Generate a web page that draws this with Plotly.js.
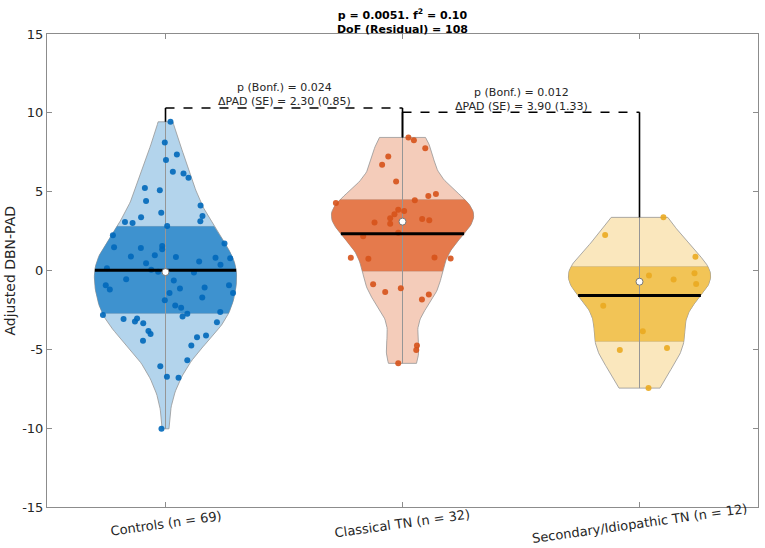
<!DOCTYPE html>
<html>
<head>
<meta charset="utf-8">
<script src="https://cdn.plot.ly/plotly-3.0.1.min.js"></script>
<style>html,body{margin:0;padding:0;background:#fff;}#chart{width:765px;height:548px;}</style>
</head>
<body>
<div id="chart"></div>
<script>
// ---------------- data ----------------
const categories = ['Controls (n = 69)', 'Classical TN (n = 32)', 'Secondary/Idiopathic TN (n = 12)'];

const controlsValues = [9.43, 8.12, 7.36, 7.01, 6.27, 6.15, 5.89, 5.23, 5.09, 4.41,
  4.13, 3.67, 3.45, 3.37, 3.12, 3.07, 3.01, 2.82, 2.24, 1.48,
  1.42, 1.55, 1.34, 1.72, 0.97, 0.89, 0.85, 0.81, 0.78, 0.57,
  0.46, 0.36, 0.15, -0.08, -0.55, -0.64, -0.93, -0.93, -1.21, -1.14,
  -1.08, -1.42, -1.42, -1.72, -1.89, -2.22, -2.37, -2.75, -2.92, -2.82,
  -2.63, -3.07, -3.05, -3.24, -3.35, -3.28, -3.83, -4.03, -4.13, -4.24,
  -4.45, -4.75, -5.70, -6.08, -6.74, -6.80, -10.04, 0.05, -0.12];
const controlsJitter = [0.021, -0.003, 0.048, 0.002, 0.031, 0.076, 0.097, -0.087, -0.024, -0.082,
  0.148, -0.018, 0.156, -0.103, 0.147, -0.171, -0.139, 0.007, -0.222, -0.217,
  -0.104, -0.014, -0.014, 0.249, -0.045, -0.146, 0.044, 0.211, 0.273, 0.142,
  -0.082, 0.232, -0.247, -0.031, -0.166, 0.035, -0.252, 0.268, -0.235, 0.061,
  0.165, 0.285, 0.017, 0.155, -0.003, 0.041, 0.066, 0.092, 0.072, -0.264,
  0.231, -0.177, -0.120, -0.129, -0.094, 0.217, -0.072, -0.063, 0.171, 0.133,
  -0.095, 0.109, 0.092, -0.022, 0.006, 0.055, -0.017, -0.060, 0.120];

const classicalValues = [8.44, 8.26, 7.76, 7.23, 6.70, 5.64, 4.85, 4.72, 4.45, 4.28,
  3.86, 3.77, 3.56, 3.31, 3.26, 3.18, 3.05, 2.97, 2.40, 2.18,
  0.81, 0.74, 0.83, 0.76, -0.87, -1.12, -1.36, -1.53, -1.84, -4.75,
  -5.04, -5.89];
const classicalJitter = [0.025, 0.048, 0.096, -0.060, -0.086, -0.027, 0.141, 0.109, 0.052, -0.281,
  -0.018, 0.007, -0.034, -0.052, 0.083, 0.113, -0.118, -0.052, -0.018, -0.166,
  -0.218, -0.144, 0.135, 0.203, -0.124, -0.007, -0.073, 0.111, 0.082, 0.061,
  0.058, -0.018];

const secondaryValues = [3.37, 2.25, 0.87, -0.17, -0.32, -0.57, -0.85, -2.24, -3.86, -5.04, -4.92, -7.46];
const secondaryJitter = [0.101, -0.145, 0.236, 0.232, 0.040, 0.144, 0.239, -0.153, 0.014, -0.083, 0.116, 0.038];

const groupMeans   = [0.02, 2.33, -1.59];
const groupMedians = [-0.10, 3.10, -0.71];
const groupQ1      = [-2.72, -0.05, -4.50];
const groupQ3      = [2.80, 4.50, 0.25];

const yTickVals = [-15, -10, -5, 0, 5, 10, 15];
const yTickText = ['-15', '-10', '-5', '0', '5', '10', '15'];

const comparisonPairs   = [[1, 2], [2, 3]];
const comparisonHeights = [10.31, 10.04];
const comparisonP       = ['0.024', '0.012'];
const comparisonDelta   = ['2.30 (0.85)', '3.90 (1.33)'];

const titleLine1 = 'p = 0.0051. f<sup>2</sup> = 0.10';
const titleLine2 = 'DoF (Residual) = 108';
const yLabel = 'Adjusted DBN-PAD';

// ---------------- styling ----------------
const lightColors = ['rgb(179,212,236)', 'rgb(244,204,186)', 'rgb(250,231,189)'];
const bandColors  = ['rgb(62,146,207)', 'rgb(229,122,76)', 'rgb(242,196,86)'];
const pointColors = ['rgb(0,104,186)', 'rgb(214,82,26)', 'rgb(234,170,32)'];
const bandwidths  = [1.5, 1.35, 1.5];
const halfWidthMax = 0.3;

const groups = [
  {vals: controlsValues, jit: controlsJitter},
  {vals: classicalValues, jit: classicalJitter},
  {vals: secondaryValues, jit: secondaryJitter}
];

function kde(vals, bw, y) {
  let s = 0;
  for (const v of vals) { const z = (y - v) / bw; s += Math.exp(-0.5 * z * z); }
  return s;
}

const traces = [];
const shapes = [];
const FONT = 'DejaVu Sans, Liberation Sans, sans-serif';
const TXT = '#262626';

groups.forEach((g, i) => {
  const c = i + 1;
  const lo = Math.min(...g.vals), hi = Math.max(...g.vals);
  const N = 120;
  const ys = [];
  for (let k = 0; k <= N; k++) ys.push(lo + (hi - lo) * k / N);
  const ds = ys.map(y => kde(g.vals, bandwidths[i], y));
  const dmax = Math.max(...ds);
  const hw = y => halfWidthMax * kde(g.vals, bandwidths[i], y) / dmax;

  // outer violin
  const ox = [], oy = [];
  ys.forEach(y => { ox.push(c + hw(y)); oy.push(y); });
  for (let k = ys.length - 1; k >= 0; k--) { ox.push(c - hw(ys[k])); oy.push(ys[k]); }
  ox.push(ox[0]); oy.push(oy[0]);
  traces.push({type: 'scatter', mode: 'lines', x: ox, y: oy, fill: 'toself',
    fillcolor: lightColors[i], line: {color: 'rgb(150,150,150)', width: 0.8},
    hoverinfo: 'skip', showlegend: false});

  // inner band (q1..q3)
  const by = [groupQ1[i]];
  ys.forEach(y => { if (y > groupQ1[i] && y < groupQ3[i]) by.push(y); });
  by.push(groupQ3[i]);
  const bx = [], byy = [];
  by.forEach(y => { bx.push(c + hw(y)); byy.push(y); });
  for (let k = by.length - 1; k >= 0; k--) { bx.push(c - hw(by[k])); byy.push(by[k]); }
  bx.push(bx[0]); byy.push(byy[0]);
  traces.push({type: 'scatter', mode: 'lines', x: bx, y: byy, fill: 'toself',
    fillcolor: bandColors[i], line: {color: 'rgba(130,130,130,0.35)', width: 0.6},
    hoverinfo: 'skip', showlegend: false});

  // center line
  traces.push({type: 'scatter', mode: 'lines', x: [c, c], y: [lo, hi],
    line: {color: 'rgb(150,150,150)', width: 1}, hoverinfo: 'skip', showlegend: false});

  // points
  traces.push({type: 'scatter', mode: 'markers', x: g.jit.map(j => c + j), y: g.vals,
    marker: {color: pointColors[i], size: 6, opacity: 0.9, line: {width: 0}},
    showlegend: false});

  // mean line
  const mw = hw(groupMeans[i]);
  traces.push({type: 'scatter', mode: 'lines', x: [c - mw, c + mw], y: [groupMeans[i], groupMeans[i]],
    line: {color: '#000', width: 3}, hoverinfo: 'skip', showlegend: false});

  // median dot
  traces.push({type: 'scatter', mode: 'markers', x: [c], y: [groupMedians[i]],
    marker: {color: '#fff', size: 7, line: {color: 'rgb(120,120,120)', width: 1}},
    showlegend: false});
});

const annotations = [];
comparisonPairs.forEach((p, k) => {
  const h = comparisonHeights[k];
  shapes.push({type: 'line', xref: 'x', yref: 'y', x0: p[0], x1: p[1], y0: h, y1: h,
    line: {color: '#000', width: 1.6, dash: 'dash'}});
  p.forEach(c => {
    const top = Math.max(...groups[c - 1].vals);
    shapes.push({type: 'line', xref: 'x', yref: 'y', x0: c, x1: c, y0: h, y1: top,
      line: {color: '#000', width: 1.6}});
  });
  annotations.push({xref: 'x', yref: 'y', x: (p[0] + p[1]) / 2, y: h, yanchor: 'middle',
    showarrow: false, yshift: 13, borderpad: 0,
    text: 'p (Bonf.) = ' + comparisonP[k] + '<br>\u0394PAD (SE) = ' + comparisonDelta[k],
    font: {family: FONT, size: 11, color: TXT}});
});

categories.forEach((t, i) => {
  annotations.push({xref: 'x', yref: 'paper', x: i + 1, y: 0, yanchor: 'middle', xanchor: 'center',
    yshift: -16, showarrow: false, textangle: -8, text: t,
    font: {family: FONT, size: 13, color: TXT}});
});
annotations.push({xref: 'paper', yref: 'paper', x: 0, y: 0.5, xshift: -38, xanchor: 'center',
  yanchor: 'middle', showarrow: false, textangle: -90, text: yLabel,
  font: {family: FONT, size: 14, color: TXT}});

const axisColor = 'rgb(140,140,140)';
const layout = {
  width: 765, height: 548,
  margin: {l: 47, r: 7, t: 34, b: 41},
  paper_bgcolor: '#fff', plot_bgcolor: '#fff',
  showlegend: false,
  title: {text: '<b>' + titleLine1 + '<br>' + titleLine2 + '</b>',
    font: {family: FONT, size: 11, color: '#000'},
    x: 0.5, xref: 'paper', xanchor: 'center', y: 0.966, yref: 'container', yanchor: 'top'},
  xaxis: {range: [0.5, 3.5], tickvals: [1, 2, 3], ticktext: categories, showticklabels: false,
    ticks: 'inside', ticklen: 5, tickcolor: axisColor, showline: true, linecolor: axisColor,
    linewidth: 1, mirror: 'ticks', showgrid: false, zeroline: false, fixedrange: true},
  yaxis: {range: [-15, 15], tickvals: yTickVals, ticktext: yTickText,
    ticks: 'inside', ticklen: 5, tickcolor: axisColor, showline: true, linecolor: axisColor,
    linewidth: 1, mirror: 'ticks', showgrid: false, zeroline: false,
    tickfont: {family: FONT, size: 13, color: TXT}, fixedrange: true},
  shapes: shapes,
  annotations: annotations
};

Plotly.newPlot('chart', traces, layout, {displayModeBar: false, staticPlot: true});
</script>
</body>
</html>
